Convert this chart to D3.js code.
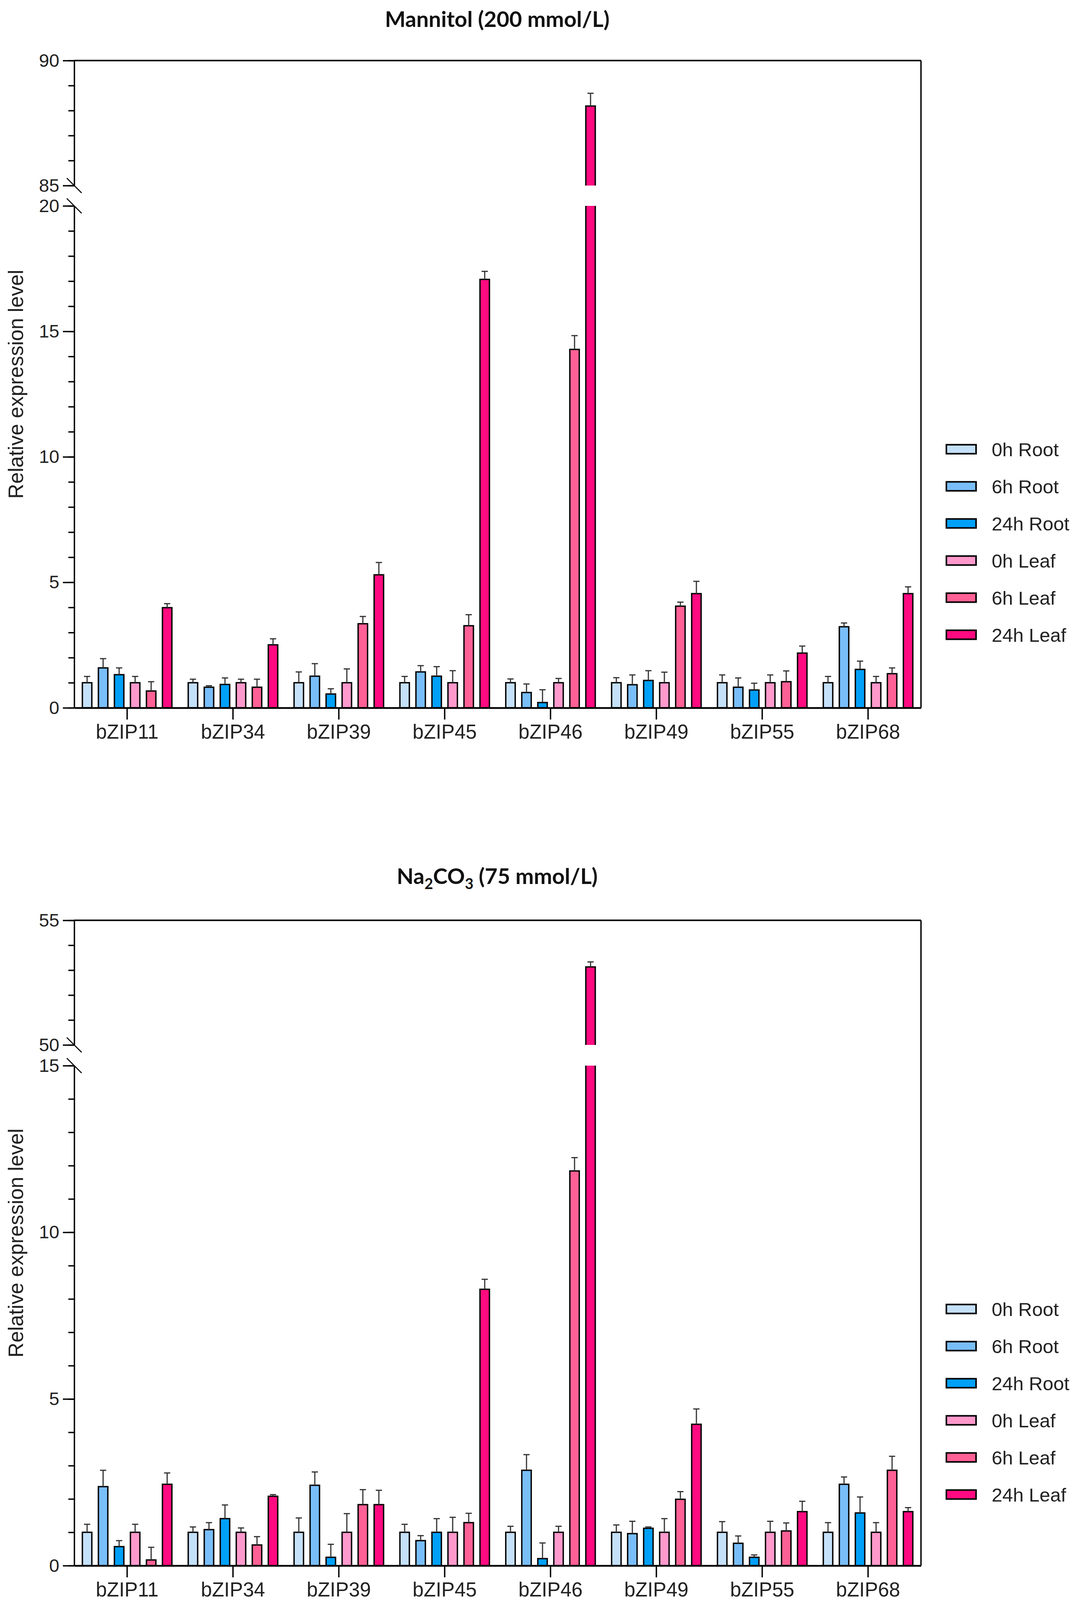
<!DOCTYPE html>
<html>
<head>
<meta charset="utf-8">
<script src="https://cdn.jsdelivr.net/npm/d3@7"></script>
<style>
  body { margin: 0; background: #fff; }
  svg { display: block; }
  .tick text { font-family: "Liberation Sans", Arial, sans-serif; fill: #222; }
  .ttl { font-family: Lato, "Open Sans", sans-serif; font-weight: bold; fill: #111; }
</style>
</head>
<body>
<div id="chart"></div>
<script>
const genes = ['bZIP11', 'bZIP34', 'bZIP39', 'bZIP45', 'bZIP46', 'bZIP49', 'bZIP55', 'bZIP68'];
const series = ['0h Root', '6h Root', '24h Root', '0h Leaf', '6h Leaf', '24h Leaf'];
const colors = ['#c5e0f9', '#79bef9', '#00a0f8', '#ff99cc', '#ff6096', '#ff0a80'];

// Mannitol (200 mmol/L): mean and SD per series, in gene order
const mannitolMean = [
  [1.0, 1.0, 1.0, 1.0, 1.0, 1.0, 1.0, 1.0],
  [1.59, 0.82, 1.26, 1.43, 0.61, 0.92, 0.82, 3.23],
  [1.32, 0.93, 0.55, 1.26, 0.21, 1.09, 0.71, 1.53],
  [1.0, 1.0, 1.0, 1.0, 1.0, 1.0, 1.0, 1.0],
  [0.67, 0.82, 3.35, 3.27, 14.28, 4.05, 1.04, 1.36],
  [3.99, 2.51, 5.30, 17.07, 88.18, 4.55, 2.18, 4.55]
];
const mannitolSd = [
  [0.25, 0.14, 0.43, 0.25, 0.15, 0.20, 0.31, 0.25],
  [0.37, 0.06, 0.50, 0.25, 0.34, 0.39, 0.37, 0.15],
  [0.27, 0.26, 0.21, 0.38, 0.51, 0.39, 0.27, 0.33],
  [0.25, 0.14, 0.55, 0.48, 0.17, 0.42, 0.31, 0.25],
  [0.37, 0.32, 0.29, 0.44, 0.55, 0.16, 0.43, 0.23],
  [0.16, 0.24, 0.49, 0.32, 0.51, 0.49, 0.28, 0.27]
];

// Na2CO3 (75 mmol/L)
const sodaMean = [
  [1.0, 1.0, 1.0, 1.0, 1.0, 1.0, 1.0, 1.0],
  [2.37, 1.08, 2.41, 0.75, 2.86, 0.96, 0.67, 2.44],
  [0.57, 1.41, 0.25, 1.0, 0.21, 1.12, 0.25, 1.58],
  [1.0, 1.0, 1.0, 1.0, 1.0, 1.0, 1.0, 1.0],
  [0.17, 0.62, 1.83, 1.29, 11.84, 1.99, 1.04, 2.86],
  [2.44, 2.08, 1.83, 8.29, 53.13, 4.24, 1.62, 1.62]
];
const sodaSd = [
  [0.24, 0.16, 0.43, 0.24, 0.18, 0.22, 0.32, 0.29],
  [0.49, 0.21, 0.40, 0.15, 0.47, 0.37, 0.22, 0.22],
  [0.18, 0.41, 0.39, 0.41, 0.47, 0.04, 0.07, 0.48],
  [0.24, 0.13, 0.56, 0.45, 0.18, 0.41, 0.33, 0.29],
  [0.38, 0.25, 0.45, 0.28, 0.40, 0.23, 0.24, 0.42],
  [0.34, 0.05, 0.43, 0.30, 0.20, 0.46, 0.31, 0.12]
];

// y axis segments (lower / upper after the break) and their ticks
const mannitolLow = [0, 20], mannitolHigh = [85, 90];
const mannitolLowMajor = [0, 5, 10, 15, 20], mannitolHighMajor = [85, 90];
const sodaLow = [0, 15], sodaHigh = [50, 55];
const sodaLowMajor = [0, 5, 10, 15], sodaHighMajor = [50, 55];

const W = 2760, H = 4126;
const left = 190, right = 2358;

const svg = d3.select('#chart').append('svg')
  .attr('width', W).attr('height', H)
  .style('background', '#fff');

function drawPanel(id, o) {
  const g = svg.append('g');

  const yLow = d3.scaleLinear().domain(o.low).range([o.zero, o.lowTop]);
  const yHigh = d3.scaleLinear().domain(o.high).range([o.highBottom, o.top]);

  const x0 = d3.scaleBand().domain(genes).range([left, right]);
  const x1 = d3.scaleBand().domain(series).range([0, x0.bandwidth()])
    .paddingInner(0.41).paddingOuter(0.51);

  // clip paths for the two segments
  const defs = g.append('defs');
  defs.append('clipPath').attr('id', id + 'low').append('rect')
    .attr('x', 0).attr('width', W).attr('y', o.lowTop).attr('height', o.zero - o.lowTop + 10);
  defs.append('clipPath').attr('id', id + 'high').append('rect')
    .attr('x', 0).attr('width', W).attr('y', 0).attr('height', o.highBottom);

  const rows = [];
  genes.forEach((gene, gi) => {
    series.forEach((s, si) => {
      rows.push({ gene, s, si, v: o.mean[si][gi], sd: o.sd[si][gi] });
    });
  });

  // lower segment bars
  g.append('g').attr('clip-path', `url(#${id}low)`)
    .selectAll('rect').data(rows).enter().append('rect')
    .attr('x', d => x0(d.gene) + x1(d.s))
    .attr('width', x1.bandwidth())
    .attr('y', d => d.v > o.low[1] ? o.lowTop - 30 : yLow(d.v))
    .attr('height', d => o.zero - (d.v > o.low[1] ? o.lowTop - 30 : yLow(d.v)))
    .attr('fill', d => colors[d.si])
    .attr('stroke', '#000')
    .attr('stroke-width', 3.5);

  // upper segment bars
  const tall = rows.filter(d => d.v > o.high[0]);
  g.append('g').attr('clip-path', `url(#${id}high)`)
    .selectAll('rect').data(tall).enter().append('rect')
    .attr('x', d => x0(d.gene) + x1(d.s))
    .attr('width', x1.bandwidth())
    .attr('y', d => yHigh(d.v))
    .attr('height', d => o.highBottom + 30 - yHigh(d.v))
    .attr('fill', d => colors[d.si])
    .attr('stroke', '#000')
    .attr('stroke-width', 3.5);

  // error bars (upper only)
  const capW = 16;
  const err = g.append('g').selectAll('g').data(rows).enter().append('g')
    .attr('stroke', '#333').attr('stroke-width', 3);
  const ys = d => d.v > o.high[0] ? yHigh : yLow;
  err.append('line')
    .attr('x1', d => x0(d.gene) + x1(d.s) + x1.bandwidth() / 2)
    .attr('x2', d => x0(d.gene) + x1(d.s) + x1.bandwidth() / 2)
    .attr('y1', d => ys(d)(d.v))
    .attr('y2', d => ys(d)(d.v + d.sd));
  err.append('line')
    .attr('x1', d => x0(d.gene) + x1(d.s) + x1.bandwidth() / 2 - capW / 2)
    .attr('x2', d => x0(d.gene) + x1(d.s) + x1.bandwidth() / 2 + capW / 2)
    .attr('y1', d => ys(d)(d.v + d.sd))
    .attr('y2', d => ys(d)(d.v + d.sd));

  // frame: top line and right line
  g.append('line').attr('x1', left).attr('x2', right).attr('y1', o.top).attr('y2', o.top)
    .attr('stroke', '#000').attr('stroke-width', 4);
  g.append('line').attr('x1', right).attr('x2', right).attr('y1', o.top).attr('y2', o.zero)
    .attr('stroke', '#000').attr('stroke-width', 3.5);

  // y axes, one per segment
  [[yLow, o.low, o.lowMajor], [yHigh, o.high, o.highMajor]].forEach(([y, dom, major]) => {
    const minorAx = g.append('g').attr('transform', `translate(${left},0)`)
      .call(d3.axisLeft(y).tickValues(d3.range(dom[0], dom[1] + 1)).tickSize(15).tickSizeOuter(0).tickFormat(''));
    minorAx.selectAll('line, path').attr('stroke', '#000').attr('stroke-width', 3.5);
    const majorAx = g.append('g').attr('transform', `translate(${left},0)`)
      .call(d3.axisLeft(y).tickValues(major).tickSize(29).tickSizeOuter(0).tickPadding(9).tickFormat(d3.format('d')));
    majorAx.select('.domain').remove();
    majorAx.selectAll('line').attr('stroke', '#000').attr('stroke-width', 3.5);
    majorAx.selectAll('text').attr('font-size', 47);
  });

  // break marks
  [o.highBottom, o.lowTop].forEach(yy => {
    g.append('line')
      .attr('x1', left - 19).attr('y1', yy - 19).attr('x2', left + 19).attr('y2', yy + 19)
      .attr('stroke', '#000').attr('stroke-width', 2.5);
  });

  // x axis
  const xAx = g.append('g').attr('transform', `translate(0,${o.zero})`)
    .call(d3.axisBottom(x0).tickSize(30).tickSizeOuter(0).tickPadding(13));
  xAx.select('.domain').attr('stroke', '#000').attr('stroke-width', 4.5);
  xAx.selectAll('line').attr('stroke', '#000').attr('stroke-width', 3.5);
  xAx.selectAll('text').attr('font-size', 51);

  // y label
  g.append('text')
    .attr('transform', `translate(40,${(o.top + o.zero) / 2}) rotate(-90)`)
    .attr('text-anchor', 'middle')
    .attr('dominant-baseline', 'central')
    .attr('font-family', '"Liberation Sans", Arial, sans-serif')
    .attr('font-size', 53)
    .attr('fill', '#222')
    .text('Relative expression level');

  // title
  const t = g.append('text').attr('class', 'ttl')
    .attr('x', 1273).attr('y', o.titleY)
    .attr('text-anchor', 'middle')
    .attr('font-size', 56);
  o.title.forEach(p => {
    const ts = t.append('tspan').text(p.t);
    if (p.sub) ts.attr('font-size', 38).attr('dy', 13);
    else if (p.after) ts.attr('dy', -13);
  });

  // legend
  const lg = g.append('g').attr('transform', `translate(2423,${o.top + 995})`);
  const item = lg.selectAll('g').data(series).enter().append('g')
    .attr('transform', (d, i) => `translate(0,${i * 95})`);
  item.append('rect')
    .attr('x', 0).attr('y', -11.5).attr('width', 76).attr('height', 23)
    .attr('fill', (d, i) => colors[i])
    .attr('stroke', '#000').attr('stroke-width', 4);
  item.append('text')
    .attr('x', 116).attr('y', 0).attr('dy', '0.36em')
    .attr('font-family', '"Liberation Sans", Arial, sans-serif')
    .attr('font-size', 49).attr('fill', '#222')
    .text(d => d);
}

drawPanel('m', {
  mean: mannitolMean, sd: mannitolSd,
  low: mannitolLow, high: mannitolHigh,
  lowMajor: mannitolLowMajor, highMajor: mannitolHighMajor,
  top: 155, highBottom: 475, lowTop: 527, zero: 1812,
  titleY: 69,
  title: [{ t: 'Mannitol (200 mmol/L)' }]
});

drawPanel('n', {
  mean: sodaMean, sd: sodaSd,
  low: sodaLow, high: sodaHigh,
  lowMajor: sodaLowMajor, highMajor: sodaHighMajor,
  top: 2356, highBottom: 2675, lowTop: 2728, zero: 4008,
  titleY: 2263,
  title: [{ t: 'Na' }, { t: '2', sub: true }, { t: 'CO', after: true }, { t: '3', sub: true }, { t: ' (75 mmol/L)', after: true }]
});
</script>
</body>
</html>
